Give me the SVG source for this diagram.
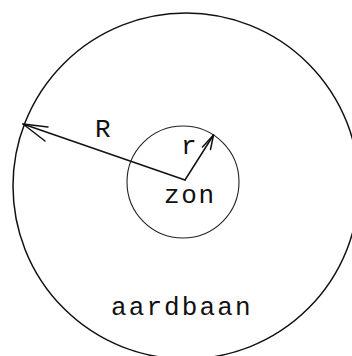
<svg xmlns="http://www.w3.org/2000/svg" width="352" height="356" viewBox="0 0 352 356">
<style>
.orbit{fill:none;stroke:#111;stroke-width:1.5}
.sun{fill:none;stroke:#222;stroke-width:1.1}
.ln{fill:none;stroke:#111;stroke-width:1.5;stroke-linecap:round;stroke-linejoin:round}
.t{font-family:"Liberation Mono","DejaVu Sans Mono",monospace;fill:#111;font-size:26px}
</style>
<rect width="352" height="356" fill="#fff"/>
<g id="aardbaan">
<circle class="orbit" cx="186" cy="186" r="173"/>
<text class="t" x="111" y="315" style="letter-spacing:2.1px">aardbaan</text>
</g>
<g id="zon">
<circle class="sun" cx="183" cy="182" r="56"/>
<text class="t" x="164" y="203" style="letter-spacing:1.6px">zon</text>
</g>
<g id="connectors">
<path class="ln" d="M185,180 L23,124"/>
<path class="ln" d="M48,127 L23,124 L45,141"/>
<text class="t" x="95" y="137">R</text>
<path class="ln" d="M185,180 L213.5,135"/>
<path class="ln" d="M202.5,147 L213.5,135 L210.5,149.5"/>
<text class="t" x="181" y="154">r</text>
</g>
</svg>
